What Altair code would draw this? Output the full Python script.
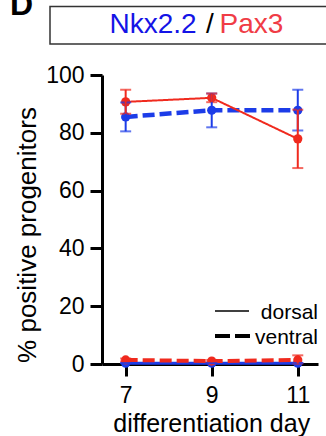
import altair as alt
import pandas as pd

days = [7, 9, 11]
genes = ["Nkx2.2", "Pax3"]
positions = ["dorsal", "ventral"]

nkx_ventral_mean = [85.5, 87.8, 87.8]
nkx_ventral_lo = [80.5, 81.9, 80.8]
nkx_ventral_hi = [90.5, 93.6, 94.9]

nkx_dorsal_mean = [0.3, 0.3, 0.3]
nkx_dorsal_lo = [0.3, 0.3, 0.3]
nkx_dorsal_hi = [0.3, 0.3, 0.3]

pax_dorsal_mean = [90.7, 92.1, 77.9]
pax_dorsal_lo = [86.6, 90.6, 67.8]
pax_dorsal_hi = [94.9, 93.6, 88.0]

pax_ventral_mean = [1.4, 1.0, 1.4]
pax_ventral_lo = [0.9, 0.6, 0.2]
pax_ventral_hi = [1.9, 1.4, 3.0]

y_ticks = [0, 20, 40, 60, 80, 100]
x_ticks = [7, 9, 11]

BLUE = "#1c3ce8"
RED = "#f02a1e"

rows = []
for gene, pos, m, lo, hi in [
    ("Nkx2.2", "dorsal", nkx_dorsal_mean, nkx_dorsal_lo, nkx_dorsal_hi),
    ("Nkx2.2", "ventral", nkx_ventral_mean, nkx_ventral_lo, nkx_ventral_hi),
    ("Pax3", "ventral", pax_ventral_mean, pax_ventral_lo, pax_ventral_hi),
    ("Pax3", "dorsal", pax_dorsal_mean, pax_dorsal_lo, pax_dorsal_hi),
]:
    for d, mv, l, h in zip(days, m, lo, hi):
        rows.append({"day": d, "gene": gene, "position": pos,
                     "series": gene + " " + pos, "mean": mv, "lo": l, "hi": h})
df = pd.DataFrame(rows)

xs = alt.Scale(domain=[6.45, 11.47], nice=False, zero=False)
ys = alt.Scale(domain=[0, 100], nice=False)
col = alt.Color("gene:N", scale=alt.Scale(domain=genes, range=[BLUE, RED]), legend=None)
xax = alt.Axis(values=x_ticks, format="d", title=None, labelPadding=8, tickSize=12)
yax = alt.Axis(values=y_ticks, title=None, labelPadding=6, tickSize=12)

base = alt.Chart(df)

line_styles = {
    "Nkx2.2 dorsal": (3, [1, 0]),
    "Nkx2.2 ventral": (4.5, [12, 5]),
    "Pax3 ventral": (4, [12, 5]),
    "Pax3 dorsal": (2, [1, 0]),
}
line_layers = []
for s, (w, dash) in line_styles.items():
    line_layers.append(
        base.transform_filter(alt.datum.series == s).mark_line(strokeWidth=w, strokeDash=dash).encode(
            x=alt.X("day:Q", scale=xs, axis=xax),
            y=alt.Y("mean:Q", scale=ys, axis=yax),
            color=col)
    )

points = base.mark_circle(size=85, opacity=1).encode(
    x=alt.X("day:Q", scale=xs, axis=xax), y=alt.Y("mean:Q", scale=ys, axis=yax), color=col)

errs = base.mark_errorbar(thickness=2, ticks={"size": 11, "thickness": 2}).encode(
    x=alt.X("day:Q", scale=xs, axis=xax), y=alt.Y("lo:Q", scale=ys, axis=yax), y2="hi:Q", color=col)

one = pd.DataFrame({"k": [0]})

box = alt.Chart(one).mark_rect(fill="white", fillOpacity=0, stroke="#333333", strokeWidth=1.5).encode(
    x=alt.value(-52), x2=alt.value(240), y=alt.value(-68.5), y2=alt.value(-31))

def txt(s, x, y, size, color="black", align="left", weight="normal", angle=0):
    return alt.Chart(pd.DataFrame({"t": [s]})).mark_text(
        align=align, baseline="alphabetic", fontSize=size, color=color,
        font="Liberation Sans", fontWeight=weight, angle=angle).encode(
        text="t:N", x=alt.value(x), y=alt.value(y))

t1 = txt("Nkx2.2", 7.5, -42.3, 28, color="#1414e6")
t2 = txt("/", 104, -42.3, 28)
t3 = txt("Pax3", 117.5, -42.3, 28, color="#f03c46")
panel = txt("D", -92, -60, 32, weight="bold")
ytitle = txt("% positive progenitors", -66, 160, 26, align="center", angle=270)
xtitle = txt("differentiation day", 109.7, 356.7, 25, align="center")

leg_solid = alt.Chart(one).mark_rule(color="black", strokeWidth=1.5).encode(
    x=alt.value(113), x2=alt.value(147), y=alt.value(236))
leg_dash = alt.Chart(one).mark_rule(color="black", strokeWidth=4, strokeDash=[15, 5]).encode(
    x=alt.value(113), x2=alt.value(148), y=alt.value(261))
leg_t1 = txt(positions[0], 216, 244, 21, align="right")
leg_t2 = txt(positions[1], 216, 269, 21, align="right")

chart = alt.layer(
    *line_layers, points, errs, box, t1, t2, t3, panel, ytitle, xtitle,
    leg_solid, leg_dash, leg_t1, leg_t2
).properties(
    width=216, height=289,
    autosize=alt.AutoSizeParams(type="none"),
    padding={"left": 102, "top": 75, "right": 8, "bottom": 72},
    background="white",
).configure_view(stroke=None).configure_axis(
    labelFont="Liberation Sans", labelFontSize=23, labelColor="black",
    domainWidth=3, domainColor="black", tickWidth=3, tickColor="black",
    tickSize=12, grid=False,
)

chart.save("out.html", embed_options={"renderer": "svg", "actions": False})
